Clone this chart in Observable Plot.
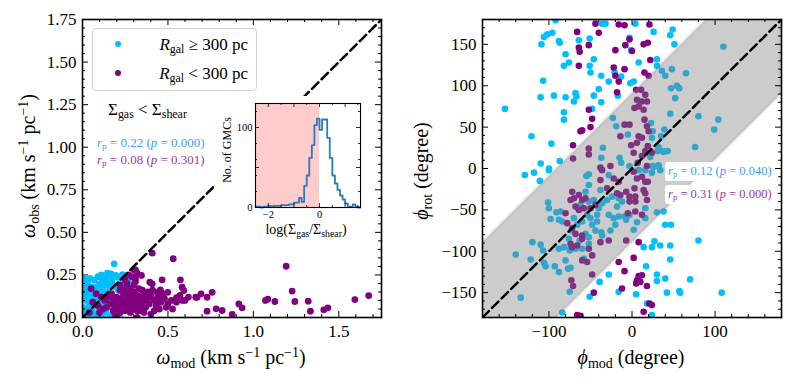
<!DOCTYPE html>
<html><head><meta charset="utf-8">
<script src="https://cdn.jsdelivr.net/npm/d3@7"></script>
<script src="https://cdn.jsdelivr.net/npm/@observablehq/plot@0.6"></script>
<style>
body{margin:0;background:#fff;font-family:'Liberation Serif','DejaVu Serif',serif;color:#000;}
#wrap{position:relative;width:793px;height:385px;overflow:hidden;}
#wrap svg{position:absolute;}
#wrap svg text{font-family:'Liberation Serif','DejaVu Serif',serif !important;}
.t{position:absolute;white-space:nowrap;transform:translate(-50%,-50%);line-height:1;}
.tl{position:absolute;white-space:nowrap;transform:translate(0,-50%);line-height:1;}
.rot{transform:translate(-50%,-50%) rotate(-90deg);}
sub{font-size:70%;vertical-align:-0.28em;line-height:0;}
sup{font-size:70%;vertical-align:0.5em;line-height:0;}
.ax{font-size:20px;}
#legend{position:absolute;left:92px;top:28px;width:163px;height:61px;border:1px solid #d4d4d4;border-radius:4px;background:rgba(255,255,255,0.85);}
.ldot{position:absolute;width:6px;height:6px;border-radius:50%;transform:translate(-50%,-50%);}
.box{position:absolute;background:#fff;border-radius:3px;font-size:12.5px;height:19px;line-height:19px;padding:0 3px;white-space:nowrap;}
</style></head><body><div id="wrap"></div>
<script>
const BLUE = "#00bfff", PURPLE = "#800080";

// ---------- Left panel data: omega_mod vs omega_obs ----------
const blueL = [
[0.185,0.315],[0.146,0.260],[0.166,0.256],[0.195,0.247],[0.234,0.252],[0.137,0.227],[0.172,0.213],[0.205,0.237],[0.117,0.213],[0.029,0.209],
[0.020,0.180],[0.010,0.141],[0.039,0.145],[0.068,0.178],[0.098,0.198],[0.088,0.162],[0.117,0.174],[0.055,0.119],[0.020,0.100],[0.078,0.080],
[0.098,0.051],[0.029,0.051],[0.059,0.031],[0.010,0.012],[0.137,0.031],[0.117,0.012],[0.185,0.031],[0.215,0.012],[0.156,0.061],[0.224,0.200],
[0.012,0.225],[0.006,0.190],[0.045,0.230],[0.070,0.220],[0.090,0.240],[0.110,0.250],[0.130,0.190],[0.150,0.150],[0.160,0.200],[0.190,0.180],
[0.210,0.160],[0.040,0.070],[0.060,0.060],[0.080,0.120],[0.100,0.100],[0.120,0.090],[0.140,0.110],[0.030,0.160],[0.050,0.180],[0.003,0.060],
[0.010,0.030],[0.030,0.010],[0.070,0.010],[0.090,0.020],[0.160,0.010],[0.200,0.070],[0.180,0.090],[0.120,0.140],[0.170,0.125],[0.230,0.100],
[0.250,0.230],[0.270,0.215],[0.005,0.160],[0.025,0.125],[0.045,0.095],[0.065,0.145],[0.105,0.160],[0.125,0.060],[0.155,0.185],[0.175,0.235]
];
const purpleL = [
[0.408,0.378],[0.531,0.345],[1.192,0.301],[0.345,0.247],[0.310,0.228],[0.394,0.207],[0.408,0.198],[0.466,0.221],[0.456,0.162],[0.499,0.148],
[0.437,0.148],[0.573,0.221],[0.583,0.178],[0.593,0.158],[0.671,0.119],[0.694,0.139],[0.729,0.119],[0.759,0.148],[0.550,0.116],[0.729,0.037],
[0.782,0.051],[0.817,0.041],[0.876,0.018],[0.915,0.080],[0.934,0.057],[1.071,0.100],[1.085,0.108],[1.126,0.094],[1.227,0.155],[1.243,0.094],
[1.321,0.096],[1.334,0.037],[1.412,0.045],[1.436,0.057],[1.594,0.105],[1.675,0.129],[0.310,0.280],
[0.22,0.16],[0.24,0.15],[0.26,0.14],[0.28,0.17],[0.30,0.15],[0.32,0.13],[0.34,0.12],[0.36,0.14],[0.38,0.11],[0.40,0.13],
[0.42,0.10],[0.44,0.12],[0.46,0.09],[0.48,0.11],[0.25,0.10],[0.27,0.08],[0.29,0.11],[0.31,0.09],[0.33,0.07],[0.35,0.09],
[0.37,0.06],[0.39,0.08],[0.20,0.12],[0.18,0.10],[0.16,0.08],[0.14,0.06],[0.12,0.05],[0.10,0.03],[0.21,0.05],[0.23,0.07],
[0.25,0.04],[0.19,0.02],[0.28,0.03],[0.30,0.05],[0.17,0.14],[0.15,0.12],[0.13,0.10],[0.22,0.19],[0.26,0.20],[0.30,0.19],
[0.33,0.17],[0.27,0.12],[0.23,0.11],[0.21,0.09],[0.19,0.07],[0.35,0.16],[0.31,0.21],[0.29,0.24],[0.27,0.25],[0.25,0.22],
[0.41,0.16],[0.43,0.07],[0.45,0.05],[0.50,0.08],[0.52,0.10],[0.36,0.03],[0.40,0.02],[0.05,0.17],[0.08,0.14],[0.06,0.09],
[0.09,0.07],[0.04,0.03],[0.11,0.12],[0.32,0.26],[0.30,0.28],[0.26,0.18],[0.24,0.13],[0.28,0.06],[0.34,0.04],[0.38,0.15],
[0.47,0.14],[0.49,0.06],[0.55,0.09],[0.57,0.13],[0.62,0.12],[0.60,0.10],[0.20,0.01],[0.32,0.00],[0.527,0.05],[0.585,0.10],
[0.663,0.119],[0.23,0.17],[0.25,0.16],[0.29,0.13],[0.31,0.11],[0.33,0.10],[0.35,0.12],[0.37,0.10],[0.39,0.12],[0.24,0.08],
[0.22,0.03],[0.18,0.04],[0.26,0.06],[0.28,0.09],[0.30,0.07],[0.32,0.04],[0.42,0.04],[0.44,0.09],[0.46,0.12],[0.36,0.06]
];
const domainL = [0, 1.75];
const xTicksL = [0, 0.5, 1.0, 1.5];
const yTicksL = [0, 0.25, 0.5, 0.75, 1.0, 1.25, 1.5, 1.75];

// ---------- Inset histogram: log(Sigma_gas / Sigma_shear) ----------
const histEdges = [-2.5,-2.4,-2.3,-2.2,-2.1,-2.0,-1.9,-1.8,-1.7,-1.6,-1.5,-1.4,-1.3,-1.2,-1.1,-1.0,-0.9,-0.8,-0.7,-0.6,-0.5,-0.4,-0.3,-0.2,-0.1,0.0,0.1,0.2,0.3,0.4,0.5,0.6,0.7,0.8,0.9,1.0,1.1,1.2,1.3,1.4,1.5,1.6];
const histCounts = [1,1,0,1,1,2,1,2,2,2,3,3,3,4,4,6,6,12,7,27,40,62,78,103,111,97,110,110,87,62,40,30,22,15,10,5,1,1,4,1,0];
const insetDomainX = [-2.5, 1.6];
const insetDomainY = [0, 130];
const pinkSpan = [[-2.5, 0]];

// ---------- Right panel data: phi_mod vs phi_rot ----------
const blueR = [
[-92,179],[-106,159],[-102,162],[-96,164],[-109,150],[-88,154],[-87,152],[-80,138],[-82,124],[-76,128],
[-107,106],[-94,88],[-110,86],[-80,86],[-68,91],[-67,87],[-70,81],[-153,72],[-82,68],[-82,59],
[-121,39],[-97,30],[-110,6],[-87,9],[-100,0],[-36,175],[-32,175],[-46,132],[-51,124],[-50,116],
[-37,112],[-28,105],[-40,96],[-46,88],[-37,80],[-48,72],[-21,116],[-13,111],[-2,103],[-17,88],
[-3,158],[-1,143],[-64,155],[-51,157],[-129,-8],[-118,-5],[-111,-15],[-100,-2],
[4,175],[49,168],[46,161],[26,165],[51,150],[8,128],[30,132],[2,105],
[-23,61],[-19,51],[-5,41],[-15,13],[-35,25],[-37,13],[-13,7],[-3,3],
[30,124],[36,118],[40,112],[48,120],[65,115],[47,97],[54,100],[57,97],[52,85],[110,147],[46,66],[80,63],[104,59],[99,47],[39,47],[25,45],[23,55],[35,39],[24,37],[76,26],[31,21],[38,21],[43,21],[25,3],[32,3],
[-101,-41],[-100,-48],[-91,-53],[-86,-52],[-98,-61],[-84,-64],[-120,-89],[-140,-104],[-122,-110],[-107,-99],[-110,-92],[-106,-114],[-104,-118],[-93,-118],[-88,-125],[-77,-121],[-74,-120],[-80,-111],[-74,-97],[-63,-87],
[-52,-91],[-60,-97],[-52,-83],[-44,-75],[-37,-77],[-56,-79],[-48,-68],[-42,-64],[-54,-56],[-50,-60],[-42,-56],[-40,-48],[-36,-42],[-30,-38],[-24,-34],[-16,-36],[-18,-46],[-12,-40],[-28,-56],[-38,-26],
[-52,-20],[-56,-28],[-55,-9],[-52,-7],[-28,-8],[-22,-60],[-16,-58],[-9,-58],[-3,-56],[-88,-97],[-82,-95],[-75,-99],[-58,-109],[-68,-97],[-36,-81],[-26,-75],[-20,-68],[-7,-62],[-75,-149],[-76,-85],
[-88,-62],[-73,-75],[-66,-68],[-60,-64],[-70,-60],[-52,-40],[-62,-44],[-46,-38],
[16,-2],[24,-5],[8,-2],[34,-2],[16,-48],[30,-53],[6,-65],[16,-60],[2,-74],[26,2],[32,4],[22,14],[38,20],[32,26],
[-134,-156],[-84,-174],[-28,-128],[-39,-137],[-51,-155],[-16,-149],
[38,-52],[40,-68],[47,-68],[80,-87],[27,-88],[34,-93],[46,-93],[14,-95],[24,-95],[46,-110],[17,-118],[30,-128],[40,-133],[30,-136],[70,-134],[57,-148],[58,-150],[42,-150],[108,-150],[5,-152],[18,-163],[20,-163],[24,-177]
];
const purpleR = [
[-44,175],[-16,174],[-9,173],[-66,165],[-40,164],[-64,146],[-63,141],[-52,149],[-64,124],[-20,143],
[-8,149],[-3,156],[-22,122],[-20,112],[-9,120],[-16,105],[-18,92],[-52,71],[-48,60],[-50,50],
[-60,46],[-62,45],[-71,28],
[-9,53],[-3,53],[-14,39],[-1,28],[-52,24],[-52,17],[-71,12],[-26,3],[-38,1],
[21,174],[14,150],[19,152],[22,131],[15,116],[20,112],[0,142],
[5,95],[11,95],[16,89],[6,83],[12,81],[18,81],[8,75],[3,73],[14,71],[15,59],[18,51],[20,45],[12,37],[8,39],[19,27],[6,31],[24,19],[2,19],[16,21],[12,15],[7,7],[18,3],
[-72,-28],[-70,-36],[-74,-38],[-64,-32],[-60,-38],[-56,-36],[-68,-46],[-64,-50],[-58,-48],[-80,-54],[-78,-66],[-72,-72],[-68,-79],[-60,-81],[-50,-48],[-44,-44],[-38,-14],[-36,-2],[-22,-12],[-18,-30],
[-14,-32],[-7,-28],[-3,-34],[-3,-40],[-16,-16],[-30,-24],[-48,-105],[-60,-111],[-54,-113],[-48,-128],[-73,-135],[-71,-142],[-52,-97],[-74,-91],[-38,-89],[-28,-87],[-7,-87],[-5,-54],[-72,-95],[-66,-93],[-60,-85],
[-16,-113],[-9,-124],[-12,-145],[-46,-150],[-66,-177],[-62,-178],
[2,-4],[6,-12],[12,-10],[16,-16],[19,-16],[14,-26],[16,-30],[3,-24],[4,-34],[4,-40],[18,-38],[12,-56],[4,-52],[8,-89],[2,-108],[8,-130],[6,-135],[10,-137],[5,-139],[18,-142],[12,-129],[24,-165],[14,-173],[21,-163]
];
const domainR = [-180, 180];
const bandHalf = 90;
const xTicksR = [-100, 0, 100];
const yTicksR = [-150, -100, -50, 0, 50, 100, 150];

// ---------- helpers ----------
const FONT = "'Liberation Serif', 'DejaVu Serif', serif";
function frameTicks(xMaj, xMin, yMaj, yMin, W, H, L1, L2, sw) {
  const o = {stroke: "black", strokeWidth: sw};
  return [
    Plot.tickX(xMaj, {x: d => d, insetTop: H - L1, ...o}),
    Plot.tickX(xMaj, {x: d => d, insetBottom: H - L1, ...o}),
    Plot.tickX(xMin, {x: d => d, insetTop: H - L2, ...o}),
    Plot.tickX(xMin, {x: d => d, insetBottom: H - L2, ...o}),
    Plot.tickY(yMaj, {y: d => d, insetRight: W - L1, ...o}),
    Plot.tickY(yMaj, {y: d => d, insetLeft: W - L1, ...o}),
    Plot.tickY(yMin, {y: d => d, insetRight: W - L2, ...o}),
    Plot.tickY(yMin, {y: d => d, insetLeft: W - L2, ...o})
  ];
}
const minus = s => String(s).replace("-", "\u2212");
const pt = {x: d => d[0], y: d => d[1]};

// ---------- Left plot ----------
const left = Plot.plot({
  width: 400, height: 385, marginLeft: 82, marginRight: 19, marginTop: 19, marginBottom: 68,
  x: {domain: domainL}, y: {domain: domainL},
  style: {fontFamily: FONT, fontSize: "17px", color: "black", background: "transparent"},
  marks: [
    Plot.dot(blueL, {...pt, r: 3.4, fill: BLUE, clip: true}),
    Plot.dot(purpleL, {...pt, r: 3.4, fill: PURPLE, clip: true}),
    Plot.line(domainL, {x: d => d, y: d => d, stroke: "black", strokeWidth: 2.5, strokeDasharray: "9,4.5", clip: true}),
    ...frameTicks(xTicksL, d3.range(0.1, 1.75, 0.1).filter(v => Math.abs(v * 2 - Math.round(v * 2)) > 1e-6), yTicksL,
      d3.range(0.05, 1.75, 0.05).filter(v => Math.abs(v * 4 - Math.round(v * 4)) > 1e-6), 299, 298, 6, 3, 1),
    Plot.axisX(xTicksL, {tickSize: 0, tickPadding: 7, fontSize: 17, fontFamily: FONT, tickFormat: d => d.toFixed(1), label: null}),
    Plot.axisY(yTicksL, {tickSize: 0, tickPadding: 6, fontSize: 17, fontFamily: FONT, tickFormat: d => d.toFixed(2), label: null}),
    Plot.frame({stroke: "black", strokeWidth: 1.6})
  ]
});
left.style.left = "0px"; left.style.top = "0px";

// ---------- Inset ----------
const histPts = histEdges.map((e, i) => ({x: e, y: histCounts[Math.min(i, histCounts.length - 1)]}));
const inset = Plot.plot({
  width: 150, height: 145, marginLeft: 41, marginRight: 4, marginTop: 7, marginBottom: 34,
  x: {domain: insetDomainX}, y: {domain: insetDomainY},
  style: {fontFamily: FONT, fontSize: "10px", color: "black", background: "white"},
  marks: [
    Plot.rect(pinkSpan, {x1: d => d[0], x2: d => d[1], fill: "#ffcccc"}),
    Plot.line(histPts, {x: "x", y: "y", curve: "step-after", stroke: "#2b7bba", strokeWidth: 1.8}),
    ...frameTicks([-2, -1, 0, 1], [-2.5, -1.5, -0.5, 0.5, 1.5], [0, 50, 100], [20, 40, 60, 80, 120], 105, 104, 4, 2, 0.8),
    Plot.axisX([-2, 0], {tickSize: 0, tickPadding: 3, fontSize: 10.5, fontFamily: FONT, tickFormat: minus, label: null}),
    Plot.axisY([0, 100], {tickSize: 0, tickPadding: 3, fontSize: 10.5, fontFamily: FONT, tickFormat: d => String(d), label: null}),
    Plot.frame({stroke: "black", strokeWidth: 1.1})
  ]
});
inset.style.left = "214px"; inset.style.top = "96px";

// ---------- Right plot ----------
const right = Plot.plot({
  width: 393, height: 385, marginLeft: 82, marginRight: 12, marginTop: 19, marginBottom: 68,
  x: {domain: domainR}, y: {domain: domainR},
  style: {fontFamily: FONT, fontSize: "17px", color: "black", background: "transparent"},
  marks: [
    Plot.dot(blueR, {...pt, r: 3.3, fill: BLUE, clip: true}),
    Plot.dot(purpleR, {...pt, r: 3.3, fill: PURPLE, clip: true}),
    Plot.areaY(domainR, {x: d => d, y1: d => d - bandHalf, y2: d => d + bandHalf, fill: "#808080", fillOpacity: 0.4,
      stroke: "#808080", strokeOpacity: 0.12, strokeWidth: 4, clip: true}),
    Plot.line(domainR, {x: d => d, y: d => d, stroke: "black", strokeWidth: 2.5, strokeDasharray: "9,4.5", clip: true}),
    ...frameTicks(xTicksR, d3.range(-180, 181, 20).filter(v => v % 100 !== 0), yTicksR,
      d3.range(-180, 181, 10).filter(v => v % 50 !== 0), 299, 298, 6, 3, 1),
    Plot.axisX(xTicksR, {tickSize: 0, tickPadding: 7, fontSize: 17, fontFamily: FONT, tickFormat: minus, label: null}),
    Plot.axisY(yTicksR, {tickSize: 0, tickPadding: 6, fontSize: 17, fontFamily: FONT, tickFormat: minus, label: null}),
    Plot.frame({stroke: "black", strokeWidth: 1.6})
  ]
});
right.style.left = "400px"; right.style.top = "0px";

const wrap = document.getElementById("wrap");
wrap.appendChild(left);
wrap.appendChild(right);
wrap.appendChild(inset);

const html = `
<div class="t ax" style="left:231px;top:357px"><i>ω</i><sub>mod</sub> (km s<sup>−1</sup> pc<sup>−1</sup>)</div>
<div class="t ax rot" style="left:28px;top:166px"><i>ω</i><sub>obs</sub> (km s<sup>−1</sup> pc<sup>−1</sup>)</div>
<div class="t ax" style="left:631px;top:357px"><i>ϕ</i><sub>mod</sub> (degree)</div>
<div class="t ax rot" style="left:421px;top:171px"><i>ϕ</i><sub>rot</sub> (degree)</div>
<div id="legend">
  <span class="ldot" style="left:25px;top:15px;background:${BLUE}"></span>
  <div class="tl" style="right:8px;top:15px;font-size:17px"><i>R</i><sub>gal</sub> ≥ 300 pc</div>
  <span class="ldot" style="left:25px;top:44px;background:${PURPLE}"></span>
  <div class="tl" style="right:8px;top:44px;font-size:17px"><i>R</i><sub>gal</sub> &lt; 300 pc</div>
</div>
<div class="tl" style="left:108px;top:109px;font-size:17px">Σ<sub>gas</sub> &lt; Σ<sub>shear</sub></div>
<div class="tl" style="left:97px;top:142px;font-size:13px;color:#3d9ef2"><i>r</i><sub>p</sub> = 0.22 (<i>p</i> = 0.000)</div>
<div class="tl" style="left:97px;top:159px;font-size:13px;color:#9a3a9a"><i>r</i><sub>p</sub> = 0.08 (<i>p</i> = 0.301)</div>
<div class="t rot" style="left:227px;top:150px;font-size:12px">No. of GMCs</div>
<div class="t" style="left:306px;top:230px;font-size:14px">log(Σ<sub>gas</sub>/Σ<sub>shear</sub>)</div>
<div class="box" style="left:665px;top:162px;color:#3d9ef2"><i>r</i><sub>p</sub> = 0.12 (<i>p</i> = 0.040)</div>
<div class="box" style="left:665px;top:185px;color:#9a3a9a"><i>r</i><sub>p</sub> = 0.31 (<i>p</i> = 0.000)</div>
`;
wrap.insertAdjacentHTML("beforeend", html);
</script>
</body></html>
